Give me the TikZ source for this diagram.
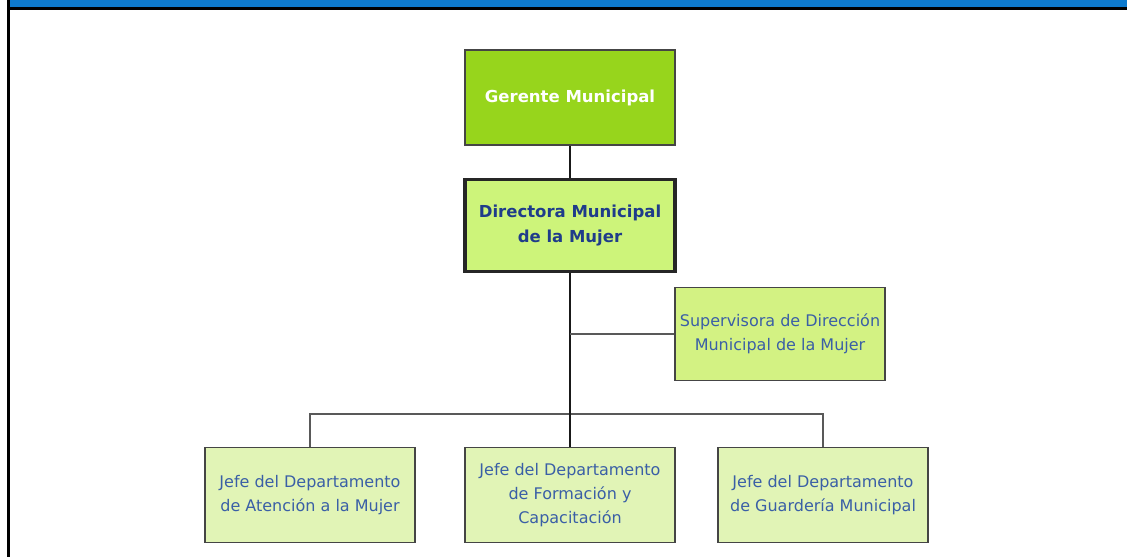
\documentclass[tikz,border=0pt]{standalone}
\usepackage{fontspec}
\setmainfont{DejaVu Sans}
\definecolor{barblue}{HTML}{0E7ACD}
\definecolor{gergreen}{HTML}{97D51C}
\definecolor{dirgreen}{HTML}{CDF47A}
\definecolor{supgreen}{HTML}{D3F283}
\definecolor{jefegreen}{HTML}{E1F4B6}
\definecolor{txtblue}{HTML}{3A5FA6}
\definecolor{dirblue}{HTML}{1F3C8A}
\definecolor{boxborder}{HTML}{454545}
\tikzset{
  orgbox/.style={draw=boxborder, line width=1.6pt, minimum width=210pt, minimum height=95pt, align=center, inner sep=2pt, font=\fontsize{16}{24}\selectfont, text=txtblue},
  gerbox/.style={orgbox, fill=gergreen, text=white, font=\fontsize{16.5}{25}\selectfont\bfseries},
  dirbox/.style={orgbox, fill=dirgreen, draw=black!85, line width=3.5pt, text=dirblue, font=\fontsize{16.5}{25}\selectfont\bfseries, minimum width=210pt, minimum height=92pt},
  supbox/.style={orgbox, fill=supgreen},
  jefebox/.style={orgbox, fill=jefegreen},
  mainline/.style={draw=black!90, line width=1.8pt},
  busline/.style={draw=black!65, line width=1.8pt}
}
\begin{document}
\begin{tikzpicture}[x=1pt,y=-1pt]
\useasboundingbox (0,0) rectangle (1127,557);
\fill[white] (0,0) rectangle (1127,557);
\fill[barblue] (9,0) rectangle (1127,7);
\fill[black] (7,7) rectangle (1127,9.5);
\fill[black] (7,0) rectangle (9.5,557);

\node[gerbox] (ger) at (570,97.5) {Gerente Municipal};
\node[dirbox] (dir) at (570,225.5) {Directora Municipal\\de la Mujer};
\node[supbox, minimum height=93pt] (sup) at (780,334) {Supervisora de Dirección\\Municipal de la Mujer};
\node[jefebox] (aten) at (310,495) {Jefe del Departamento\\de Atención a la Mujer};
\node[jefebox] (form) at (570,495) {Jefe del Departamento\\de Formación y\\Capacitación};
\node[jefebox] (guard) at (823,495) {Jefe del Departamento\\de Guardería Municipal};

\coordinate (bus) at (570,414);
\draw[busline] (aten.north) |- (bus) -| (guard.north);
\draw[mainline] (ger.south) -- (dir.north);
\draw[mainline] (dir.south) -- (form.north);
\draw[busline] (sup.west) -- (sup.west -| dir.south);
\end{tikzpicture}
\end{document}
